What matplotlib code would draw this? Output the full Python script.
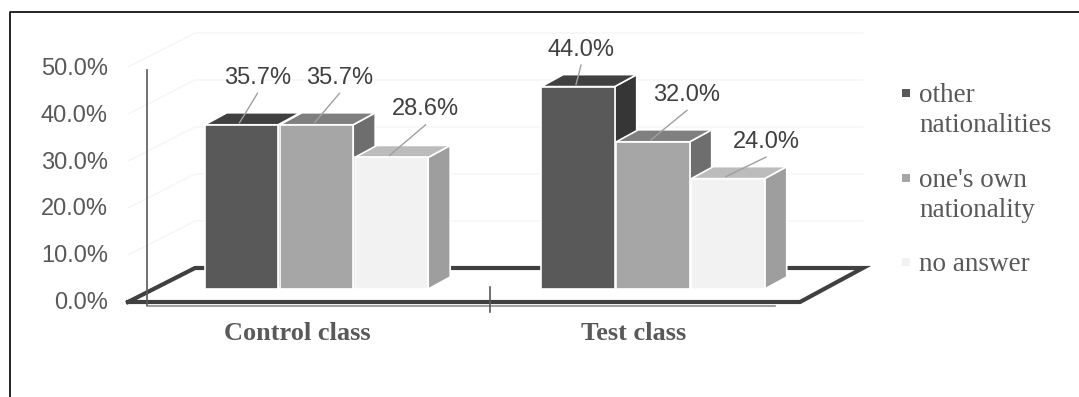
import matplotlib.pyplot as plt
from matplotlib.patches import Polygon, Rectangle
from matplotlib.lines import Line2D

groups = ['Control class', 'Test class']
series = ['other\nnationalities', "one's own\nnationality", 'no answer']
values = [
    [35.7, 44.0],   # other nationalities
    [35.7, 32.0],   # one's own nationality
    [28.6, 24.0],   # no answer
]
yticks = [0, 10, 20, 30, 40, 50]

front_colors = ['#595959', '#a6a6a6', '#f2f2f2']
top_colors = ['#404040', '#7f7f7f', '#bcbcbc']
side_colors = ['#363636', '#6e6e6e', '#9e9e9e']

# pixel scale of the fake 3d view
W, H = 1079, 397
SX = 336.5   # px per category unit
SY = 4.6     # px per percent
X0, Y0 = 316.5, 289.0   # px position of x=0, y=0

def px(xp, yp):
    return (xp - X0) / SX, (Y0 - yp) / SY

pitch = 75 / SX
width = 73.4 / SX
ddx, ddy = 22 / SX, 12 / SY

# label offsets (px) from bar top front centre: dx, baseline dy
label_off = [[(16, -41), (3, -31)],
             [(23, -41), (34, -41)],
             [(34, -42), (38, -31)]]

fig = plt.figure(figsize=(W / 100, H / 100), dpi=100)
ax = fig.add_axes([0, 0, 1, 1])
ax.set_xlim(-X0 / SX, (W - X0) / SX)
ax.set_ylim((Y0 - H) / SY, Y0 / SY)
ax.axis('off')

# faint walls grid
bx0, _ = px(195, 0)
bx1, _ = px(863, 0)
fx0, _ = px(128, 0)
for v in yticks[1:]:
    yb = px(0, 268 - 4.7 * v)[1]
    yf = px(0, 302 - 4.7 * v)[1]
    ax.plot([fx0, bx0, bx1], [yf, yb, yb], color='#f6f6f6', lw=1, zorder=1)

# floor
_, yback = px(0, 268)
_, yfront = px(0, 302)
fr, _ = px(800, 0)
floor_x = [fx0, bx0, bx1, fr, fx0]
floor_y = [yfront, yback, yback, yfront, yfront]
ax.plot(floor_x, floor_y, color='#404040', lw=3, solid_joinstyle='miter', zorder=2)

# axis lines
ax0, _ = px(147, 0)
ax.plot([ax0, px(775, 0)[0]], [px(0, 305.5)[1]] * 2, color='#8c8c8c', lw=1.2, zorder=2)
ax.plot([ax0, ax0], [px(0, 70)[1], px(0, 305)[1]], color='#595959', lw=1.2, zorder=2)
tx = px(490, 0)[0]
ax.plot([tx, tx], [px(0, 287)[1], px(0, 312)[1]], color='#595959', lw=1.2, zorder=2)

for j in range(len(series)):
    xs = [g + (j - 1) * pitch for g in range(len(groups))]
    z = 3 + 3 * j
    for xc, v in zip(xs, values[j]):
        l, r = xc - width / 2, xc + width / 2
        ax.add_patch(Polygon([(r, 0), (r, v), (r + ddx, v + ddy), (r + ddx, ddy)],
                             closed=True, fc=side_colors[j], ec='white', lw=1.2, zorder=z))
        ax.add_patch(Polygon([(l, v), (r, v), (r + ddx, v + ddy), (l + ddx, v + ddy)],
                             closed=True, fc=top_colors[j], ec='white', lw=1.2, zorder=z + 1))
    ax.bar(xs, values[j], width=width, color=front_colors[j], edgecolor='white',
           linewidth=1.2, zorder=z + 2)

# data labels with leader lines
for j in range(len(series)):
    for g, v in enumerate(values[j]):
        xc = g + (j - 1) * pitch
        odx, ody = label_off[j][g]
        lx = xc + odx / SX
        ly = v - ody / SY
        ax.text(lx, ly, f'{v:.1f}%', ha='center', va='baseline', fontsize=17,
                family='Liberation Sans', color='#404040', zorder=20)
        ax.plot([lx, xc - 2 / SX], [ly - 9.5 / SY, v + 2 / SY], color='#a0a0a0',
                lw=1, zorder=20)

# y tick labels
for v in yticks:
    ax.text(px(108, 0)[0], px(0, 309 - 4.68 * v)[1], f'{v:.1f}%', ha='right',
            va='baseline', fontsize=17, family='Liberation Sans', color='#595959')

# category labels
for g, name in enumerate(groups):
    ax.text(g - 0.058, px(0, 340)[1], name, ha='center', va='baseline', fontsize=19,
            family='Liberation Serif', fontweight='bold', color='#595959')

# legend
leg_base = [[102, 132], [187, 217], [271]]
for j, name in enumerate(series):
    for k, line in enumerate(name.split('\n')):
        fig.text(919 / W, 1 - leg_base[j][k] / H, line, ha='left', va='baseline',
                 fontsize=19.5, family='Liberation Serif', color='#595959')
    sy = leg_base[j][0] - 9
    fig.add_artist(Rectangle(((906 - 4) / W, 1 - (sy + 4) / H), 8 / W, 8 / H,
                             transform=fig.transFigure, fc=front_colors[j], ec='none'))

# outer frame
fl = 9.5 / W
ft = 1 - 11.5 / H
fig.add_artist(Line2D([fl, fl, 1], [0, ft, ft], transform=fig.transFigure,
                      color='black', lw=1.2))

fig.savefig('out.png', dpi=100)
